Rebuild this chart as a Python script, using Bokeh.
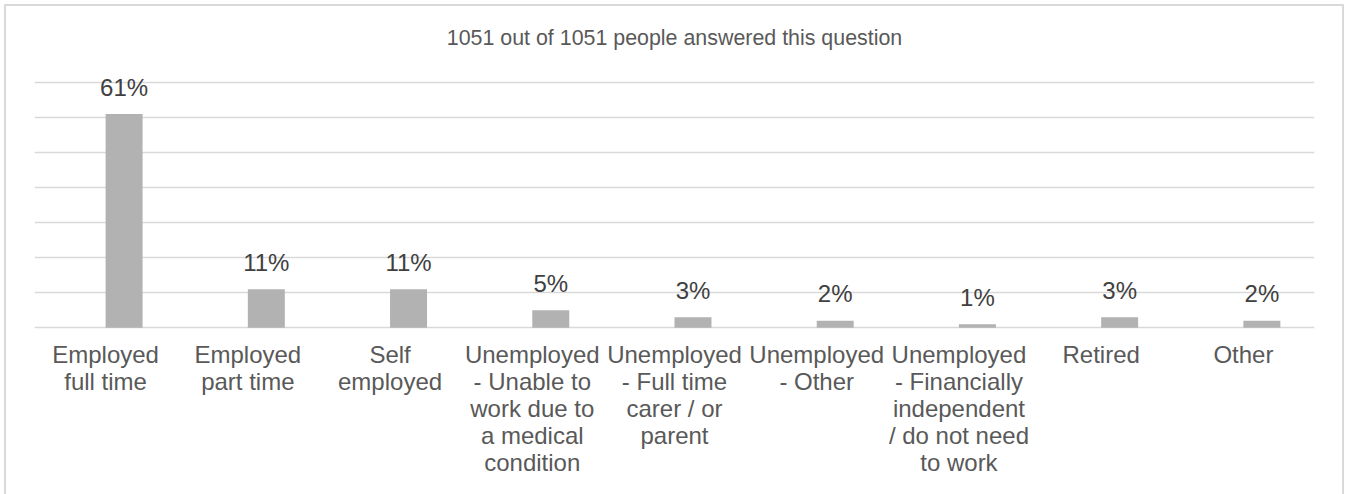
from bokeh.plotting import figure
from bokeh.models import FactorRange, Range1d, ColumnDataSource, LabelSet, Label
from bokeh.transform import dodge
from bokeh.core.properties import value
from bokeh.embed import file_html
from bokeh.resources import INLINE

categories = ["Employed\nfull time", "Employed\npart time", "Self\nemployed",
              "Unemployed\n- Unable to\nwork due to\na medical\ncondition",
              "Unemployed\n- Full time\ncarer / or\nparent",
              "Unemployed\n- Other",
              "Unemployed\n- Financially\nindependent\n/ do not need\nto work",
              "Retired", "Other"]
values = [61, 11, 11, 5, 3, 2, 1, 3, 2]
grid_ticks = [0, 10, 20, 30, 40, 50, 60, 70]
title_text = "1051 out of 1051 people answered this question"

FONT = "Liberation Sans"
W, H = 1336, 488

src = ColumnDataSource(dict(cat=categories, val=values,
                            lab=[f"{v}%" for v in values]))

p = figure(x_range=FactorRange(factors=categories, range_padding=0),
           y_range=Range1d(-0.5, 90),
           width=W, height=H,
           output_backend="svg", toolbar_location=None,
           y_axis_location=None,
           min_border_left=28, min_border_right=32,
           min_border_top=6, min_border_bottom=167,
           styles={"margin": "4px 0 0 4px", "border": "2px solid #d9d9d9",
                   "border-bottom": "none", "box-sizing": "content-box"})

p.outline_line_color = None
p.background_fill_color = "white"
p.border_fill_color = "white"
p.xgrid.grid_line_color = None
p.ygrid.grid_line_color = None

p.hspan(y=grid_ticks, line_color="#d9d9d9", line_width=1.5, level="underlay")

p.vbar(x=dodge("cat", 0.13, range=p.x_range), top="val", bottom=0, width=0.26,
       source=src, fill_color="#b2b2b2", line_color=None)

labels = LabelSet(x=dodge("cat", 0.13, range=p.x_range), y="val", text="lab",
                  source=src, y_offset=27, text_align="center",
                  text_baseline="middle", text_font=value(FONT),
                  text_font_size="24px", text_color="#404040")
p.add_layout(labels)

ax = p.xaxis[0]
ax.axis_line_color = None
ax.major_tick_line_color = None
ax.minor_tick_line_color = None
ax.major_label_standoff = 5
ax.major_label_text_font = FONT
ax.major_label_text_font_size = "24px"
ax.major_label_text_color = "#595959"
ax.major_label_text_line_height = 1.0

title = Label(x=len(categories) / 2, y=82.6, text=title_text,
              text_align="center", text_baseline="middle",
              text_font=FONT, text_font_size="21.4px", text_color="#595959")
p.add_layout(title)

open("out.html", "w").write(file_html(p, INLINE))
